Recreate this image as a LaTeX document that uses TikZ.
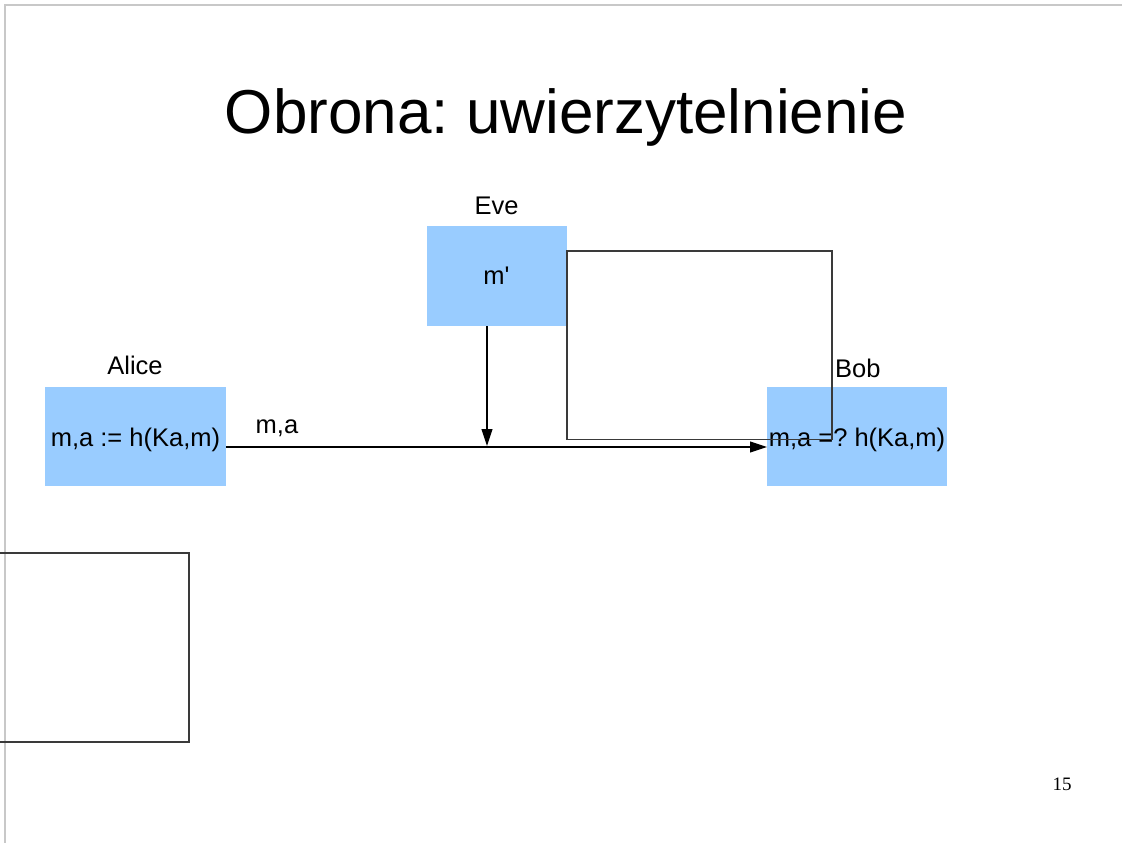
\documentclass[tikz,border=0pt]{standalone}
\usepackage{fontspec}
\setmainfont{Liberation Sans}
\newfontfamily\serifnum{Liberation Serif}
\usetikzlibrary{arrows.meta}
\definecolor{boxblue}{HTML}{99CCFF}
\definecolor{framegray}{HTML}{C8C8C8}
\definecolor{linegray}{HTML}{3A3A3A}
\tikzset{
  box/.style={fill=boxblue, draw=none, inner sep=0pt, font=\fontsize{25.5}{30}\selectfont},
  lbl/.style={inner sep=0pt, font=\fontsize{25.5}{30}\selectfont},
  arr/.style={draw=black, line width=1.1pt, -{Triangle[length=17pt,width=11pt]}},
  plain/.style={draw=linegray, line width=1.1pt},
  frameline/.style={draw=framegray, line width=1.5pt}
}
\frenchspacing
\begin{document}
\begin{tikzpicture}[x=1pt,y=-1pt]
\useasboundingbox (0,0) rectangle (1122,843);
\draw[frameline] (5,843) -- (5,5) -- (1122,5);

\node[inner sep=0pt, anchor=base, font=\fontsize{62}{70}\selectfont] (title) at (566,133) {Obrona: uwierzytelnienie};

\node[box, minimum width=181pt, minimum height=99pt, text height=22pt, text depth=2pt] (alice) at (135.5,436.5) {m,a := h(Ka,m)};
\node[box, minimum width=140pt, minimum height=100pt] (eve) at (496.5,276) {m\textquotesingle};
\node[box, minimum width=180pt, minimum height=99pt, text height=22pt, text depth=2pt] (bob) at (857,436.5) {m,a =? h(Ka,m)};

\node[lbl] (alicelbl) at (135,365) {Alice};
\node[lbl] (evelbl) at (496.5,206) {Eve};
\node[lbl, anchor=west] (boblbl) at (835,368) {Bob};
\node[lbl] (malbl) at (277,428) {m,a};

\coordinate (aout) at (226,447);
\coordinate (bin) at (767,447);
\coordinate (eout) at (487,326);
\coordinate (ein) at (487,446);
\draw[arr] (aout) -- (bin);
\draw[arr] (eout) -- (ein);

\coordinate (r1) at (567,251);
\coordinate (r2) at (832,439.5);
\draw[plain] (r1) rectangle (r2);

\coordinate (s1) at (0,553);
\coordinate (s2) at (189,553);
\coordinate (s3) at (189,742);
\coordinate (s4) at (0,742);
\draw[plain] (s1) -- (s2) -- (s3) -- (s4);

\node[inner sep=0pt, anchor=base, font=\serifnum\fontsize{19}{22}\selectfont] (pnum) at (1062,790) {15};
\end{tikzpicture}
\end{document}
